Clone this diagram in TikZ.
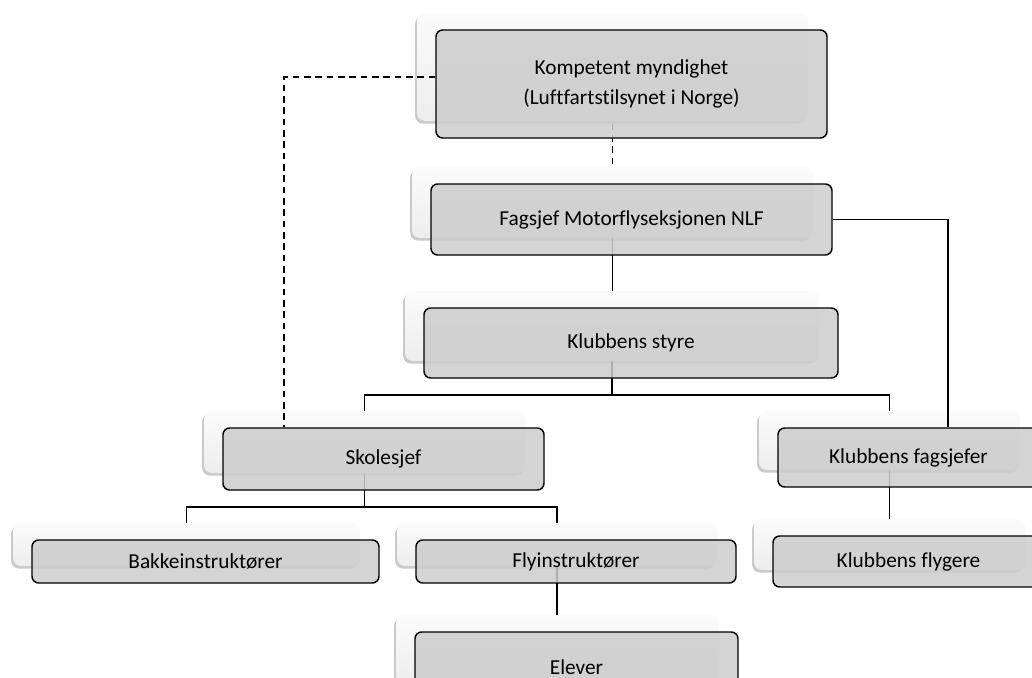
\documentclass[tikz,border=0pt]{standalone}
\usepackage{fontspec}
\setmainfont{Carlito}[Ligatures=NoCommon]
\usetikzlibrary{shadows,calc}
\pgfdeclarelayer{bg}
\pgfsetlayers{bg,main}
\tikzset{
  mainbox/.style={draw=black, line width=1.1pt, rounded corners=5pt, fill=gray!40,
    fill opacity=0.85, text opacity=1, font=\fontsize{16}{22}\selectfont,
    align=center, inner sep=0pt},
  backbox/.style={rounded corners=6pt, top color=gray!3, bottom color=gray!14,
    drop shadow={shadow xshift=-1.4pt, shadow yshift=-2pt, opacity=0.35, fill=black!60}},
  link/.style={line width=1.3pt, draw=black},
  dlink/.style={link, dash pattern=on 5pt off 3.5pt},
}
% name, x1, y1, x2, y2, text  (pixel units, y downwards)
\newcommand\orgbox[6]{%
  \node[backbox, minimum width={(#4-#2)*0.75pt}, minimum height={(#5-#3)*0.75pt}]
    (#1b) at ({(#2+#4)/2-19},{(#3+#5)/2-17}) {};
  \node[mainbox, minimum width={(#4-#2)*0.75pt}, minimum height={(#5-#3)*0.75pt}]
    (#1) at ({(#2+#4)/2},{(#3+#5)/2}) {#6};
}
\begin{document}
\begin{tikzpicture}[x=0.75pt, y=-0.75pt]
\useasboundingbox (0,0) rectangle (1032,678);
\clip (0,0) rectangle (1032,678);
\orgbox{k}{436}{30}{827}{138}{Kompetent myndighet\\(Luftfartstilsynet i Norge)}
\orgbox{f}{431}{184}{832}{255}{Fagsjef Motorflyseksjonen NLF}
\orgbox{st}{424}{308}{838}{378}{Klubbens styre}
\orgbox{s}{223}{428}{544}{490}{Skolesjef}
\orgbox{fs}{778}{428}{1039}{487}{Klubbens fagsjefer}
\orgbox{b}{32}{540}{379}{583}{Bakkeinstruktører}
\orgbox{fi}{416}{540}{736}{583}{Flyinstruktører}
\orgbox{fl}{773}{536}{1044}{587}{Klubbens flygere}
\orgbox{e}{415}{632}{738}{702}{Elever}
\coordinate (j1) at ($(stb.center |- st.south)+(0,16)$);
\coordinate (j2) at ($(sb.center |- s.south)+(0,16)$);
\begin{pgfonlayer}{bg}
  \draw[dlink] (kb.center) -- (kb.center |- fb.north);
  \draw[link] (fb.center) -- (fb.center |- stb.north);
  \draw[link] (stb.center) -- (j1);
  \draw[link] (sb.north) |- (j1) -| (fsb.north);
  \draw[link] (sb.center) -- (j2);
  \draw[link] (bb.north) |- (j2) -| (fib.north);
  \draw[link] (fsb.center) -- (fsb.center |- flb.north);
  \draw[link] (fib.center) -- (fib.center |- eb.north);
\end{pgfonlayer}
\draw[link] (f.east) -| ([xshift=29.6pt]fs.north);
\draw[dlink] ([yshift=5pt]k.west) -| ([xshift=-74.6pt]s.north);
\end{tikzpicture}
\end{document}
